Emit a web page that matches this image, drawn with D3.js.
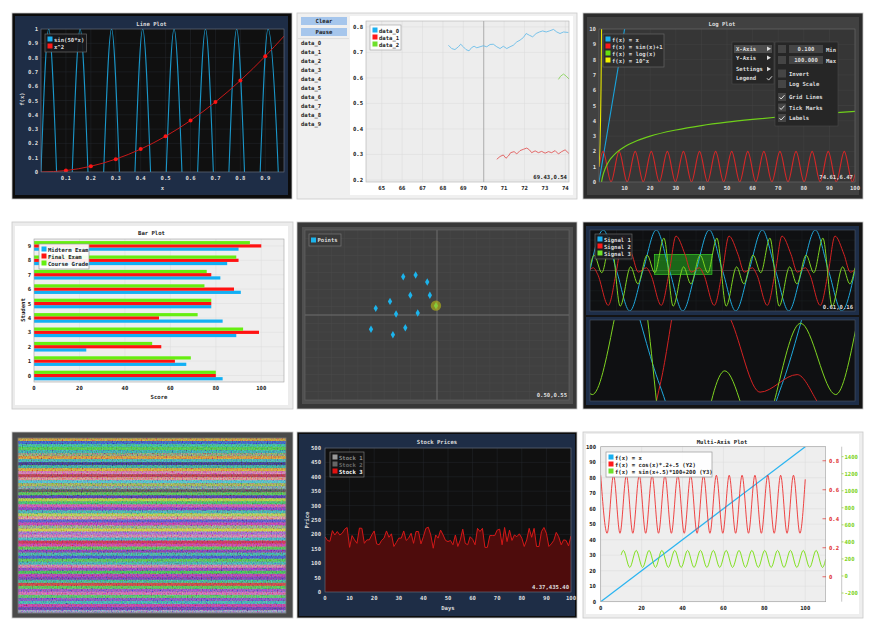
<!DOCTYPE html>
<html><head><meta charset="utf-8">
<script src="https://cdn.jsdelivr.net/npm/d3@7"></script>
<style>body{margin:0;background:#fff;}svg{display:block;}text{font-family:"DejaVu Sans Mono","Liberation Mono",monospace;font-weight:bold;}</style>
</head><body><svg id="c" width="875" height="633"></svg>
<script>
// ---------------- DATA ----------------
// Panel 1: Line Plot
const p1Labels = ["sin(50*x)", "x^2"];
const p1WaveX = [0,0.031,0.094,0.157,0.220,0.283,0.346,0.408,0.471,0.534,0.597,0.660,0.723,0.785,0.848,0.911,0.974];
const p1WaveY = [0,1,-1,1,-1,1,-1,1,-1,1,-1,1,-1,1,-1,1,-1];
const p1SqX = [0,0.1,0.2,0.3,0.4,0.5,0.6,0.7,0.8,0.9,0.975];
const p1SqY = [0,0.01,0.04,0.09,0.16,0.25,0.36,0.49,0.64,0.81,0.95];
const p1MarkX = [0.1,0.2,0.3,0.4,0.5,0.6,0.7,0.8,0.9];
const p1MarkY = [0.01,0.04,0.09,0.16,0.25,0.36,0.49,0.64,0.81];
const p1XTicks = [0.1,0.2,0.3,0.4,0.5,0.6,0.7,0.8,0.9];
const p1YTicks = [0,0.1,0.2,0.3,0.4,0.5,0.6,0.7,0.8,0.9,1];

// Panel 2: realtime
const p2Names = ["data_0","data_1","data_2","data_3","data_4","data_5","data_6","data_7","data_8","data_9"];
const p2D0X = [68.27,68.43,68.59,68.76,68.87,69.00,69.13,69.28,69.41,69.53,69.66,69.82,69.98,70.15,70.31,70.47,70.64,70.80,70.96,71.13,71.29,71.45,71.62,71.78,71.94,72.08,72.24,72.40,72.57,72.73,72.89,73.06,73.22,73.42,73.58,73.74,73.91,74.15];
const p2D0Y = [0.728,0.715,0.711,0.722,0.732,0.722,0.711,0.706,0.719,0.724,0.718,0.722,0.726,0.722,0.731,0.732,0.722,0.715,0.724,0.715,0.722,0.728,0.741,0.748,0.758,0.774,0.767,0.761,0.774,0.780,0.784,0.780,0.784,0.790,0.780,0.774,0.780,0.778];
const p2D1X = [70.64,70.80,70.96,71.09,71.21,71.32,71.49,71.62,71.78,71.94,72.11,72.24,72.35,72.52,72.68,72.84,73.01,73.17,73.33,73.50,73.66,73.82,73.99,74.20];
const p2D1Y = [0.281,0.292,0.298,0.285,0.294,0.307,0.311,0.302,0.315,0.320,0.325,0.318,0.307,0.314,0.307,0.312,0.305,0.311,0.307,0.315,0.302,0.311,0.318,0.302];
const p2D2X = [73.66,73.77,73.91,74.04,74.20];
const p2D2Y = [0.594,0.607,0.615,0.607,0.594];
const p2XTicks = [65,66,67,68,69,70,71,72,73,74];
const p2YTicks = [0.2,0.3,0.4,0.5,0.6,0.7,0.8];

// Panel 3: Log plot
const p3Labels = ["f(x) = x","f(x) = sin(x)+1","f(x) = log(x)","f(x) = 10^x"];
const p3LinX = [0,100], p3LinY = [0,100];
const p3SinX = [0,1.571,4.712,7.854,10.996,14.137,17.279,20.420,23.562,26.704,29.845,32.987,36.128,39.270,42.412,45.553,48.695,51.836,54.978,58.119,61.261,64.403,67.544,70.686,73.827,76.969,80.111,83.252,86.394,89.535,92.677,95.819,98.960,100];
const p3SinY = [1,2,0,2,0,2,0,2,0,2,0,2,0,2,0,2,0,2,0,2,0,2,0,2,0,2,0,2,0,2,0,2,0,0.494];
const p3LogX = [0.5,0.8,1,1.5,2,3,4,5,7,10,15,20,30,40,50,60,70,80,90,100];
const p3LogY = [-0.69,-0.22,0,0.41,0.69,1.10,1.39,1.61,1.95,2.30,2.71,3.00,3.40,3.69,3.91,4.09,4.25,4.38,4.50,4.61];
const p3PowX = [0,0.2,0.4,0.6,0.8,1];
const p3PowY = [1,1.58,2.51,3.98,6.31,10];
const p3XTicks = [10,20,30,40,50,60,70,80,90,100];
const p3YTicks = [0,1,2,3,4,5,6,7,8,9,10];

// Panel 4: Bar plot
const p4Students = [0,1,2,3,4,5,6,7,8,9];
const p4Series = ["Midterm Exam","Final Exam","Course Grade"];
const p4Midterm = [83,67,23,89,83,78,91,82,85,90];
const p4Final = [80,62,56,99,55,78,88,78,90,100];
const p4Course = [80,69,52,92,72,78,75,76,89,95];
const p4XTicks = [0,20,40,60,80,100];

// Panel 5: scatter
const p5X = [0.372,0.419,0.463,0.399,0.473,0.322,0.268,0.345,0.427,0.380,0.250,0.333];
const p5Y = [0.725,0.735,0.694,0.616,0.616,0.580,0.539,0.506,0.512,0.425,0.416,0.384];
const p5HoverX = [0.496], p5HoverY = [0.555];
const p5Grid = [0.05,0.1,0.15,0.2,0.25,0.3,0.35,0.4,0.45,0.5,0.55,0.6,0.65,0.7,0.75,0.8,0.85,0.9,0.95];

// Panel 6: signals
const p6Labels = ["Signal 1","Signal 2","Signal 3"];
const p6S1X = [0,1.571,3.142,4.712,6.283,7.854,9.425,10.996,12.566,14.137,15.708,17.279,18.850,20.420,21.991,23.562,25.133,26.704,28.274,29.845,31.416];
const p6S1Y = [0,1,0,-1,0,1,0,-1,0,1,0,-1,0,1,0,-1,0,1,0,-1,0];
const p6S2X = [0,0.401,0.908,2.164,3.142,3.910,4.974,5.725,6.684,7.191,8.447,9.425,10.193,11.257,12.008,12.967,13.474,14.730,15.708,16.476,17.540,18.291,19.251,19.758,21.014,21.992,22.760,23.824,24.575,25.534,26.041,27.297,28.275,29.043,30.107,30.858,31.416];
const p6S2Y = [0.02,0.067,-0.094,-0.86,0,0.85,0.40,-0.04,0.067,-0.094,-0.86,0,0.85,0.40,-0.04,0.067,-0.094,-0.86,0,0.85,0.40,-0.04,0.067,-0.094,-0.86,0,0.85,0.40,-0.04,0.067,-0.094,-0.86,0,0.85,0.40,-0.04,0.02];
const p6S3X = [0,0.489,1.396,2.478,3.578,4.817,5.672,6.772,7.679,8.761,9.861,11.100,11.955,13.055,13.962,15.044,16.144,17.383,18.238,19.339,20.246,21.328,22.428,23.667,24.522,25.622,26.529,27.611,28.711,29.950,30.805,31.416];
const p6S3Y = [0.07,0.38,-0.055,0.80,-0.88,0.09,-0.33,0.38,-0.055,0.80,-0.88,0.09,-0.33,0.38,-0.055,0.80,-0.88,0.09,-0.33,0.38,-0.055,0.80,-0.88,0.09,-0.33,0.38,-0.055,0.80,-0.88,0.09,-0.33,0.07];
const p6Sel = [7.62,14.46,-0.094,0.40];

// Panel 7: heatmap row colours
const p7Rows = ["#b8843a","#3a5ab8","#3aa88a","#4ab84a","#3a9a9a","#7a8a6a","#c8803a","#40a0a0","#3a3a7a","#3a9a8a","#c8903a","#c86aa0","#a83a4a","#d07a7a","#4ab0c0","#8aa050","#6a9090","#505050","#50b050","#4a3a9a","#a0c040","#40b060","#c050a0","#7040b0","#40a0a0","#a0c050","#d08080","#5050c0","#b040a0","#7a9a7a","#c0c040","#9060c0","#c070a0","#40a0b0","#c03050","#c04090","#50b050","#7040a0","#40a090","#4050c0","#50b050","#40a0a0","#c07090","#8040b0","#40b050","#a040a0","#6a40a0","#40a080","#c04040","#50b050","#8050b0","#c060a0","#50b060","#7050b0","#40a0a0","#b04090","#6040a0","#8080b0"];

// Panel 8: stock prices
const p8Labels = ["Stock 1","Stock 2","Stock 3"];
const p8Stock3 = [192,179,176,213,198,210,198,204,218,224,155,196,181,169,222,221,169,181,181,198,212,167,164,179,187,212,190,202,158,172,187,187,212,179,187,204,169,210,210,167,192,221,225,198,152,198,187,215,198,179,175,179,164,198,158,181,218,169,164,192,183,164,221,210,221,155,155,196,196,196,215,218,164,224,175,215,179,198,192,202,187,158,181,221,190,221,158,158,210,224,204,158,167,179,207,192,164,181,179,160,195];
const p8XTicks = [0,10,20,30,40,50,60,70,80,90,100];
const p8YTicks = [0,50,100,150,200,250,300,350,400,450,500];

// Panel 9: multi-axis
const p9Labels = ["f(x) = x","f(x) = cos(x)*.2+.5 (Y2)","f(x) = sin(x+.5)*100+200 (Y3)"];
const p9LinX = [0,100], p9LinY = [0,100];
const p9CosX = [0,3.142,6.283,9.425,12.566,15.708,18.850,21.991,25.133,28.274,31.416,34.558,37.699,40.841,43.982,47.124,50.265,53.407,56.549,59.690,62.832,65.973,69.115,72.257,75.398,78.540,81.681,84.823,87.965,91.106,94.248,97.389,100];
const p9CosY = [0.7,0.3,0.7,0.3,0.7,0.3,0.7,0.3,0.7,0.3,0.7,0.3,0.7,0.3,0.7,0.3,0.7,0.3,0.7,0.3,0.7,0.3,0.7,0.3,0.7,0.3,0.7,0.3,0.7,0.3,0.7,0.3,0.672];
const p9SinX = [10,11.071,14.212,17.354,20.496,23.637,26.779,29.920,33.062,36.204,39.345,42.487,45.628,48.770,51.912,55.053,58.195,61.336,64.478,67.619,70.761,73.903,77.044,80.186,83.327,86.469,89.611,92.752,95.894,99.035,102.177,105.319,108.460,110];
const p9SinY = [248,300,100,300,100,300,100,300,100,300,100,300,100,300,100,300,100,300,100,300,100,300,100,300,100,300,100,300,100,300,100,300,100,197];
const p9XTicks = [0,20,40,60,80,100];
const p9Y1Ticks = [0,10,20,30,40,50,60,70,80,90,100];
const p9Y2Ticks = [0,0.2,0.4,0.6,0.8];
const p9Y3Ticks = [-200,0,200,400,600,800,1000,1200,1400];

// ---------------- HELPERS ----------------
const svg = d3.select('#c');
const defs = svg.append('defs');
let cid = 0;
function clip(b){const id='cp'+(cid++);defs.append('clipPath').attr('id',id).append('rect').attr('x',b.x0).attr('y',b.y0).attr('width',b.x1-b.x0).attr('height',b.y1-b.y0);return 'url(#'+id+')';}
function R(g,x,y,w,h,fill,stroke,sw){return g.append('rect').attr('x',x).attr('y',y).attr('width',w).attr('height',h).attr('fill',fill||'none').attr('stroke',stroke||'none').attr('stroke-width',sw||0.8);}
function T(g,x,y,s,o){o=o||{};return g.append('text').attr('x',x).attr('y',y).attr('font-size',o.size||5.6).attr('fill',o.fill||'#ddd').attr('text-anchor',o.anchor||'start').attr('dominant-baseline','central').attr('transform',o.rot?`rotate(-90 ${x} ${y})`:null).text(s);}
function L(g,x1,y1,x2,y2,c,w){return g.append('line').attr('x1',x1).attr('y1',y1).attr('x2',x2).attr('y2',y2).attr('stroke',c).attr('stroke-width',w||0.6);}
function P(g,xs,ys,sx,sy,c,w,curve){return g.append('path').attr('d',d3.line().x((d,i)=>sx(xs[i])).y((d,i)=>sy(ys[i])).curve(curve||d3.curveLinear)(xs)).attr('fill','none').attr('stroke',c).attr('stroke-width',w||1).attr('stroke-linejoin','round');}
function scales(b,xd,yd){return [d3.scaleLinear().domain(xd).range([b.x0,b.x1]),d3.scaleLinear().domain(yd).range([b.y1,b.y0])];}
function grid(g,b,sx,sy,xt,yt,c){xt.forEach(v=>L(g,sx(v),b.y0,sx(v),b.y1,c,0.5));yt.forEach(v=>L(g,b.x0,sy(v),b.x1,sy(v),c,0.5));}
function legend(g,x,y,w,h,items,bg,st,tc){R(g,x,y,w,h,bg,st,0.7);items.forEach((it,i)=>{R(g,x+2.5,y+3+i*7-0.5,5,5,it.c);T(g,x+9,y+5.5+i*7,it.t,{fill:it.tc||tc});});}
const MONO=d3.curveMonotoneX;

// ---------------- PANEL 1 ----------------
{
 const g=svg.append('g');
 R(g,12,13,280,186,'#0c0c0c','#c8c8c8');
 R(g,15,16,273,179,'#1e2d46');
 const b={x0:41,x1:284,y0:29,y1:172};
 const [sx,sy]=scales(b,[0,0.975],[0,1]);
 R(g,b.x0,b.y0,b.x1-b.x0,b.y1-b.y0,'#101010');
 grid(g,b,sx,sy,p1XTicks,p1YTicks,'#24282e');
 const cg=g.append('g').attr('clip-path',clip(b));
 P(cg,p1WaveX,p1WaveY,sx,sy,'#1a96c8',1.1,MONO);
 P(cg,p1SqX,p1SqY,sx,sy,'#c81818',1,MONO);
 cg.selectAll('circle').data(p1MarkX).join('circle').attr('cx',d=>sx(d)).attr('cy',(d,i)=>sy(p1MarkY[i])).attr('r',2).attr('fill','#ff1414');
 R(g,b.x0,b.y0,b.x1-b.x0,b.y1-b.y0,'none','#6b7689',0.6);
 p1YTicks.forEach(v=>T(g,38,sy(v),String(v),{anchor:'end'}));
 p1XTicks.forEach(v=>T(g,sx(v),178,String(v),{anchor:'middle'}));
 T(g,151.5,24,'Line Plot',{anchor:'middle'});
 T(g,162.5,188,'x',{anchor:'middle'});
 T(g,22,99,'f(x)',{anchor:'middle',rot:true});
 legend(g,45,34,41.5,18,[{t:p1Labels[0],c:'#1ab0f0'},{t:p1Labels[1],c:'#ff1a1a'}],'rgba(24,24,28,0.9)','#6a6a6a','#ddd');
}

// ---------------- PANEL 2 ----------------
{
 const g=svg.append('g');
 R(g,297,13,280,186,'#f0f0f0','#c8c8c8');
 R(g,301,17,46,8,'#a6c6ec');T(g,324,21,'Clear',{anchor:'middle',fill:'#222'});
 R(g,301,28,46,8,'#a6c6ec');T(g,324,32,'Pause',{anchor:'middle',fill:'#222'});
 L(g,298,38.6,349,38.6,'#cfcfcf',0.6);
 p2Names.forEach((n,i)=>T(g,301,43.3+i*8.93,n,{fill:'#222'}));
 R(g,350,16,223,179,'#ffffff');
 const b={x0:366,x1:569,y0:21,y1:182};
 const [sx,sy]=scales(b,[64.23,74.18],[0.192,0.823]);
 R(g,b.x0,b.y0,b.x1-b.x0,b.y1-b.y0,'#ededed');
 grid(g,b,sx,sy,p2XTicks,p2YTicks,'#dadada');
 const cg=g.append('g').attr('clip-path',clip(b));
 L(cg,sx(70),b.y0,sx(70),b.y1,'#8a8a8a',0.6);
 P(cg,p2D0X,p2D0Y,sx,sy,'#5ab8e8',0.8);
 P(cg,p2D1X,p2D1Y,sx,sy,'#e04848',0.8);
 P(cg,p2D2X,p2D2Y,sx,sy,'#7ed04a',0.8);
 R(g,b.x0,b.y0,b.x1-b.x0,b.y1-b.y0,'none','#b0b0b0',0.6);
 p2YTicks.forEach(v=>T(g,363,sy(v),v.toFixed(1),{anchor:'end',fill:'#222'}));
 p2XTicks.forEach(v=>T(g,sx(v),187.7,String(v),{anchor:'middle',fill:'#222'}));
 legend(g,370,25,31,25,[{t:p2Names[0],c:'#1ab0f0'},{t:p2Names[1],c:'#ff1a1a'},{t:p2Names[2],c:'#6ee02a'}],'rgba(255,255,255,0.85)','#aaa','#222');
 T(g,567,177,'69.43,0.54',{anchor:'end',fill:'#222'});
}

// ---------------- PANEL 3 ----------------
{
 const g=svg.append('g');
 R(g,583,13,280,186,'#2c2c2c','#c8c8c8');
 R(g,587,17,272,178,'#414141');
 const b={x0:599,x1:855,y0:29,y1:182};
 const [sx,sy]=scales(b,[0,100],[0,10]);
 R(g,b.x0,b.y0,b.x1-b.x0,b.y1-b.y0,'#363636');
 grid(g,b,sx,sy,p3XTicks,p3YTicks,'#454545');
 const cg=g.append('g').attr('clip-path',clip(b));
 P(cg,p3LinX,p3LinY,sx,sy,'#1aa3db',1.1);
 P(cg,p3SinX,p3SinY,sx,sy,'#d42828',1.1,MONO);
 P(cg,p3LogX,p3LogY,sx,sy,'#6fcf1a',1.2,MONO);
 P(cg,p3PowX,p3PowY,sx,sy,'#e8e800',1.1,MONO);
 R(g,b.x0,b.y0,b.x1-b.x0,b.y1-b.y0,'none','#6a6a6a',0.6);
 p3YTicks.forEach(v=>T(g,596,sy(v),String(v),{anchor:'end'}));
 p3XTicks.forEach(v=>T(g,sx(v),188,String(v),{anchor:'middle'}));
 T(g,722,24,'Log Plot',{anchor:'middle'});
 legend(g,603,34,61,33,[{t:p3Labels[0],c:'#1ab0f0'},{t:p3Labels[1],c:'#ff1a1a'},{t:p3Labels[2],c:'#66e010'},{t:p3Labels[3],c:'#f0f000'}],'rgba(46,46,46,0.92)','#666','#ddd');
 T(g,853,177,'74.61,6.47',{anchor:'end'});
 // context menu
 R(g,732,42,42,42,'#262626','#4c4c4c',0.6);
 R(g,734,45,38,8,'#4d4d4d');
 const m1=['X-Axis','Y-Axis','Settings','Legend'],m1y=[48.7,57.7,69,78];
 m1.forEach((s,i)=>T(g,736,m1y[i],s));
 [0,1,2].forEach(i=>g.append('path').attr('d',`M767,${m1y[i]-2.2}L771,${m1y[i]}L767,${m1y[i]+2.2}Z`).attr('fill','#ddd'));
 const chk=(x,y)=>g.append('path').attr('d',`M${x},${y}l1.6,1.8l3.4,-3.8`).attr('fill','none').attr('stroke','#ddd').attr('stroke-width',1);
 chk(767,78.3);
 R(g,775,42,63,84,'#262626','#4c4c4c',0.6);
 R(g,778,45,8,8,'#454545');R(g,789,45,34,8,'#454545');T(g,806,49,'0.100',{anchor:'middle'});T(g,826,49.7,'Min');
 R(g,778,56,8,8,'#454545');R(g,789,56,34,8,'#454545');T(g,806,60,'100.000',{anchor:'middle'});T(g,826,60.7,'Max');
 const rows=[['Invert',73.5,false],['Log Scale',84,false],['Grid Lines',97,true],['Tick Marks',107.5,true],['Labels',118,true]];
 rows.forEach(r=>{R(g,778,r[1]-4,8,8,'#454545');T(g,789,r[1],r[0]);if(r[2])chk(779.5,r[1]+0.2);});
}

// ---------------- PANEL 4 ----------------
{
 const g=svg.append('g');
 R(g,12,222,281,187,'#ececec','#c8c8c8');
 R(g,15,226,273,179,'#ffffff');
 const b={x0:34,x1:284,y0:239,y1:382};
 const [sx,sy]=scales(b,[0,110],[-0.45,9.48]);
 R(g,b.x0,b.y0,b.x1-b.x0,b.y1-b.y0,'#eeeeee');
 grid(g,b,sx,sy,[20,40,60,80,100],p4Students,'#dcdcdc');
 const cg=g.append('g').attr('clip-path',clip(b));
 const bw=0.67/3, cols=['#12b0f5','#ff1212','#66ee10'];
 [p4Midterm,p4Final,p4Course].forEach((arr,k)=>{
  cg.selectAll('rect.s'+k).data(arr).join('rect').attr('x',sx(0)).attr('width',d=>sx(d)-sx(0))
   .attr('y',(d,i)=>sy(p4Students[i]-0.335+(k+1)*bw)).attr('height',sy(0)-sy(bw)).attr('fill',cols[k]);
 });
 R(g,b.x0,b.y0,b.x1-b.x0,b.y1-b.y0,'none','#a0a0a0',0.6);
 p4Students.forEach(v=>T(g,31,sy(v),String(v),{anchor:'end',fill:'#222'}));
 p4XTicks.forEach(v=>T(g,sx(v),388,String(v),{anchor:'middle',fill:'#222'}));
 T(g,151.5,233,'Bar Plot',{anchor:'middle',fill:'#222'});
 T(g,159,397,'Score',{anchor:'middle',fill:'#222'});
 T(g,23,310,'Student',{anchor:'middle',fill:'#222',rot:true});
 legend(g,39,244,50,25,p4Series.map((s,i)=>({t:s,c:cols[i]})),'rgba(255,255,255,0.92)','#999','#222');
}

// ---------------- PANEL 5 ----------------
{
 const g=svg.append('g');
 R(g,297,222,280,187,'#383838','#c8c8c8');
 R(g,302,227,271,177,'#505050');
 const b={x0:305,x1:569,y0:230,y1:400};
 const [sx,sy]=scales(b,[0,1],[0,1]);
 R(g,b.x0,b.y0,b.x1-b.x0,b.y1-b.y0,'#404040');
 grid(g,b,sx,sy,p5Grid,p5Grid,'#4a4a4a');
 L(g,sx(0.5),b.y0,sx(0.5),b.y1,'#8a8a8a',0.6);
 L(g,b.x0,sy(0.5),b.x1,sy(0.5),'#8a8a8a',0.6);
 const cg=g.append('g').attr('clip-path',clip(b));
 const dia=d3.symbol().type(d3.symbolDiamond).size(16);
 cg.selectAll('path.pt').data(p5X).join('path').attr('class','pt').attr('d',dia).attr('transform',(d,i)=>`translate(${sx(d)},${sy(p5Y[i])})`).attr('fill','#1cb4ec');
 cg.append('circle').attr('cx',sx(p5HoverX[0])).attr('cy',sy(p5HoverY[0])).attr('r',5.2).attr('fill','rgba(190,190,20,0.6)');
 cg.append('path').attr('d',dia).attr('transform',`translate(${sx(p5HoverX[0])},${sy(p5HoverY[0])})`).attr('fill','#86cc3a');
 R(g,b.x0,b.y0,b.x1-b.x0,b.y1-b.y0,'none','#666',0.6);
 R(g,309,234,32,12,'rgba(56,56,56,0.85)','#777',0.7);
 R(g,311,237.5,5,5,'#1cb4ec');T(g,317.5,240,'Points');
 T(g,567,395,'0.50,0.55',{anchor:'end'});
}

// ---------------- PANEL 6 ----------------
{
 const g=svg.append('g');
 R(g,583,222,280,187,'#141414','#c8c8c8');
 const cols=['#1fa8dc','#d42222','#7ed321'];
 const subs=[{f:{x0:586,x1:859,y0:226,y1:315},b:{x0:590,x1:855,y0:230,y1:311},xd:[0,31.416],yd:[-1,1]},
             {f:{x0:586,x1:859,y0:317,y1:405},b:{x0:590,x1:855,y0:320,y1:401},xd:[p6Sel[0],p6Sel[1]],yd:[p6Sel[2],p6Sel[3]]}];
 subs.forEach((s,k)=>{
  R(g,s.f.x0,s.f.y0,s.f.x1-s.f.x0,s.f.y1-s.f.y0,'#1e2e48');
  const b=s.b;const [sx,sy]=scales(b,s.xd,s.yd);
  R(g,b.x0,b.y0,b.x1-b.x0,b.y1-b.y0,'#0f1012');
  if(k===0){grid(g,b,sx,sy,[3.14,6.28,9.42,12.57,15.71,18.85,21.99,25.13,28.27],[-0.75,-0.5,-0.25,0.25,0.5,0.75],'#1d2024');
   L(g,b.x0,sy(0),b.x1,sy(0),'#555',0.6);}
  const cg=g.append('g').attr('clip-path',clip(b));
  if(k===0){R(cg,sx(p6Sel[0]),sy(p6Sel[3]),sx(p6Sel[1])-sx(p6Sel[0]),sy(p6Sel[2])-sy(p6Sel[3]),'rgba(40,190,30,0.5)','#3ee02a',0.6);}
  P(cg,p6S1X,p6S1Y,sx,sy,cols[0],1,MONO);
  P(cg,p6S2X,p6S2Y,sx,sy,cols[1],1,MONO);
  P(cg,p6S3X,p6S3Y,sx,sy,cols[2],1,MONO);
  R(g,b.x0,b.y0,b.x1-b.x0,b.y1-b.y0,'none','#4a5466',0.6);
 });
 legend(g,595,234,37,25,p6Labels.map((s,i)=>({t:s,c:['#1ab0f0','#ff1a1a','#6ee02a'][i]})),'rgba(30,30,34,0.88)','#666','#ddd');
 T(g,853,307,'0.61,0.16',{anchor:'end'});
}

// ---------------- PANEL 7 ----------------
{
 const g=svg.append('g');
 R(g,12,432,281,186,'#4a4a4a','#c8c8c8');
 const b={x0:18,x1:286,y0:438,y1:613};
 const hg=g.append('g').style('isolation','isolate');
 const sy=d3.scaleBand().domain(p7Rows.map((c,i)=>i)).range([b.y0,b.y1]);
 hg.selectAll('rect.hr').data(p7Rows).join('rect').attr('class','hr').attr('x',b.x0).attr('width',b.x1-b.x0)
  .attr('y',(d,i)=>sy(i)).attr('height',sy.bandwidth()+0.2).attr('fill',d=>d);
 const f=defs.append('filter').attr('id','nz').attr('x',0).attr('y',0).attr('width','100%').attr('height','100%');
 f.append('feTurbulence').attr('type','fractalNoise').attr('baseFrequency','0.8 0.6').attr('numOctaves',1).attr('seed',7).attr('result','t');
 f.append('feColorMatrix').attr('in','t').attr('type','matrix').attr('values','1.8 0 0 0 -0.45  0 1.8 0 0 -0.45  0 0 1.8 0 -0.45  0 0 0 0 1');
 R(hg,b.x0,b.y0,b.x1-b.x0,b.y1-b.y0,'#fff').attr('filter','url(#nz)').attr('opacity',0.55).style('mix-blend-mode','overlay');
 R(g,b.x0,b.y0,b.x1-b.x0,b.y1-b.y0,'none','#777',0.8);
}

// ---------------- PANEL 8 ----------------
{
 const g=svg.append('g');
 R(g,297,432,280,186,'#0c0c0c','#c8c8c8');
 R(g,299,434,276,182,'#1e2d46');
 const b={x0:325,x1:571,y0:448,y1:592};
 const [sx,sy]=scales(b,[0,100],[0,500]);
 R(g,b.x0,b.y0,b.x1-b.x0,b.y1-b.y0,'#101010');
 grid(g,b,sx,sy,p8XTicks,p8YTicks,'#24282e');
 const cg=g.append('g').attr('clip-path',clip(b));
 cg.append('path').attr('d',d3.area().x((d,i)=>sx(i)).y0(sy(0)).y1(d=>sy(d))(p8Stock3)).attr('fill','#4e0c0c');
 cg.append('path').attr('d',d3.line().x((d,i)=>sx(i)).y(d=>sy(d))(p8Stock3)).attr('fill','none').attr('stroke','#d41818').attr('stroke-width',1);
 R(g,b.x0,b.y0,b.x1-b.x0,b.y1-b.y0,'none','#6b7689',0.6);
 p8YTicks.forEach(v=>T(g,321,sy(v),String(v),{anchor:'end'}));
 p8XTicks.forEach(v=>T(g,sx(v),598.3,String(v),{anchor:'middle'}));
 T(g,437,442,'Stock Prices',{anchor:'middle'});
 T(g,448,608,'Days',{anchor:'middle'});
 T(g,307,520,'Price',{anchor:'middle',rot:true});
 legend(g,330,452,34,25,[{t:p8Labels[0],c:'#9a9a9a',tc:'#8a8a8a'},{t:p8Labels[1],c:'#666',tc:'#6a6a6a'},{t:p8Labels[2],c:'#e01010',tc:'#fff'}],'rgba(20,20,22,0.88)','#777','#ddd');
 T(g,569,587,'4.37,435.40',{anchor:'end'});
}

// ---------------- PANEL 9 ----------------
{
 const g=svg.append('g');
 R(g,583,432,280,186,'#eeeeee','#c8c8c8');
 R(g,586,434,273,180,'#ffffff');
 const b={x0:600.7,x1:825.7,y0:446.7,y1:601.7};
 const [sx,sy]=scales(b,[0,110],[0,100]);
 const sy2=d3.scaleLinear().domain([-0.172,0.897]).range([b.y1,b.y0]);
 const sy3=d3.scaleLinear().domain([-302,1517]).range([b.y1,b.y0]);
 R(g,b.x0,b.y0,b.x1-b.x0,b.y1-b.y0,'#eeeeee');
 grid(g,b,sx,sy,p9XTicks,p9Y1Ticks,'#dadada');
 const cg=g.append('g').attr('clip-path',clip(b));
 P(cg,p9LinX,p9LinY,sx,sy,'#2ab4f0',1.3);
 P(cg,p9CosX,p9CosY,sx,sy2,'#ee3030',0.9,MONO);
 P(cg,p9SinX,p9SinY,sx,sy3,'#80e020',1,MONO);
 R(g,b.x0,b.y0,b.x1-b.x0,b.y1-b.y0,'none','#a0a0a0',0.6);
 p9Y1Ticks.forEach(v=>T(g,596,sy(v),String(v),{anchor:'end',fill:'#222'}));
 p9XTicks.forEach(v=>T(g,sx(v),607.7,String(v),{anchor:'middle',fill:'#222'}));
 p9Y2Ticks.forEach(v=>{L(g,822.5,sy2(v),826,sy2(v),'#e03030',0.7);T(g,829,sy2(v),String(v),{fill:'#e03030'});});
 L(g,841.7,b.y0,841.7,b.y1,'#a0a0a0',0.6);
 p9Y3Ticks.forEach(v=>{L(g,841.7,sy3(v),843.5,sy3(v),'#7ed321',0.7);T(g,844.5,sy3(v),String(v),{fill:'#7ed321'});});
 T(g,722,442,'Multi-Axis Plot',{anchor:'middle',fill:'#222'});
 R(g,606,452,106,25,'rgba(255,255,255,0.92)','#999',0.7);
 [['#1ab0f0',p9Labels[0]],['#ff1a1a',p9Labels[1]],['#6ee02a',p9Labels[2]]].forEach((it,i)=>{R(g,608.5,455+i*7-0.5,5,5,it[0]);T(g,615,457.7+i*7.1,it[1],{fill:'#222'});});
}
</script></body></html>
